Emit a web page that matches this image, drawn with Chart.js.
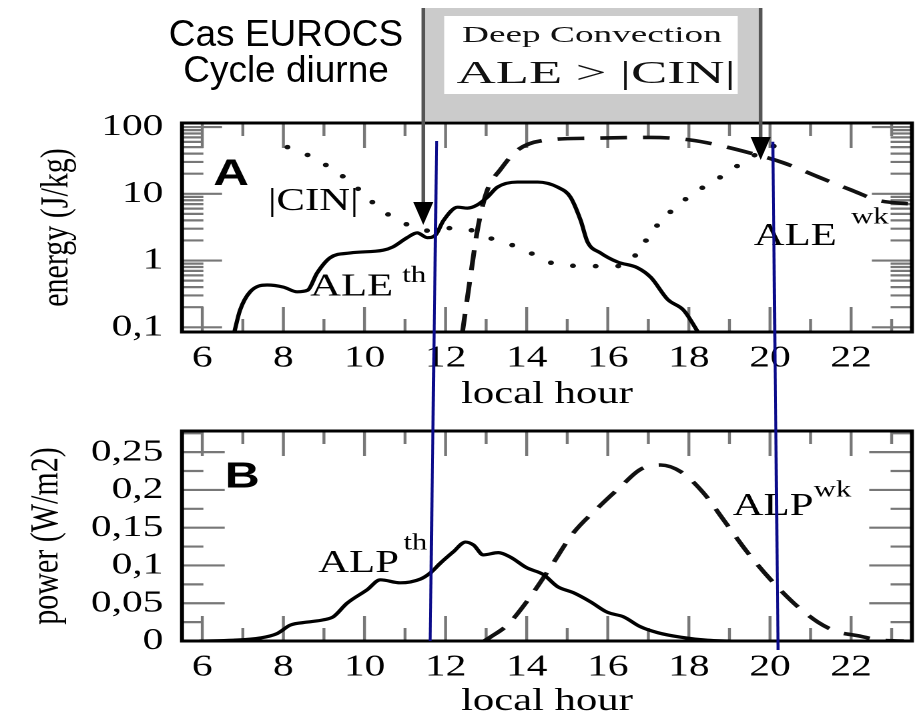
<!DOCTYPE html>
<html>
<head>
<meta charset="utf-8">
<script src="https://cdn.jsdelivr.net/npm/chart.js@4.4.1/dist/chart.umd.min.js"></script>
<style>
  html, body { margin: 0; padding: 0; background: #fff; overflow: hidden; }
  #page { position: relative; width: 921px; height: 715px; overflow: hidden; }
  .stretch { position: absolute; left: 0; transform-origin: 0 0; }
  #overlay { position: absolute; left: 0; top: 0; pointer-events: none; }
</style>
</head>
<body>
<div id="page">
  <div class="stretch" id="wrapA" style="top:0px"><canvas id="chartA" width="690" height="420"></canvas></div>
  <div class="stretch" id="wrapB" style="top:420px"><canvas id="chartB" width="690" height="310"></canvas></div>
  <canvas id="overlay" width="921" height="715"></canvas>
</div>
<script>
// --- panel A : energy (J/kg), log scale ---
const aleThHours  = [6.78, 6.93, 7.18, 7.6, 8.0, 8.34, 8.6, 8.83, 9.15, 9.65, 10.46, 10.7, 11.05, 11.3, 11.55, 11.75, 11.95, 12.3, 12.54, 12.78, 13.03, 13.28, 13.77, 14.27, 14.76, 15.08, 15.33, 15.5, 15.82, 16.24, 16.73, 17.06, 17.48, 17.87, 18.25];
const aleThValues = [0.08, 0.18, 0.34, 0.43, 0.40, 0.34, 0.36, 0.65, 1.1, 1.3, 1.43, 1.6, 2.2, 2.6, 2.2, 2.4, 4.0, 6.3, 6.1, 6.8, 8.9, 12.6, 15, 15, 12.6, 8.9, 4.0, 1.9, 1.3, 0.95, 0.78, 0.56, 0.26, 0.18, 0.08];

const aleWkHours  = [12.41, 12.61, 12.8, 13.03, 13.35, 13.77, 14.41, 15.57, 17.06, 18.04, 18.7, 19.5, 20.34, 21.18, 22.0, 22.66, 23.5];
const aleWkValues = [0.08, 0.56, 3.2, 11.4, 23, 45, 63, 68, 70, 64, 54, 41, 29, 18, 11.4, 8, 7];

const cinHours  = [8.1, 8.73, 9.2, 9.65, 10.34, 10.76, 11.25, 11.45, 12.3, 13.35, 13.85, 14.34, 14.83, 15.5, 16.07, 16.56, 16.86, 17.13, 17.43, 17.8, 18.2, 18.66, 19.1, 19.52, 20.02, 20.5];
const cinValues = [50, 35, 23.5, 15, 6.3, 4.2, 3.1, 2.8, 3.1, 1.9, 1.55, 1.09, 0.85, 0.83, 0.81, 1.0, 1.7, 2.9, 4.6, 7.3, 11, 16, 24, 35, 50, 60];

// --- panel B : power (W/m2) ---
const alpThHours  = [5.94, 6.76, 7.43, 7.85, 8.17, 8.59, 8.98, 9.23, 9.57, 10.07, 10.39, 10.88, 11.38, 11.62, 11.87, 12.19, 12.49, 12.69, 12.93, 13.3, 13.6, 14.0, 14.41, 14.76, 15.15, 15.57, 15.99, 16.39, 16.8, 17.23, 17.8, 18.46, 19.0];
const alpThValues = [0, 0.001, 0.004, 0.01, 0.021, 0.025, 0.028, 0.032, 0.05, 0.068, 0.081, 0.077, 0.082, 0.09, 0.103, 0.118, 0.131, 0.127, 0.114, 0.117, 0.111, 0.097, 0.088, 0.072, 0.064, 0.052, 0.038, 0.032, 0.019, 0.011, 0.005, 0.001, 0];

const alpWkHours  = [12.95, 13.1, 13.52, 14.0, 14.59, 15.15, 15.75, 16.31, 16.8, 17.3, 17.8, 18.36, 18.86, 19.45, 20.02, 20.59, 21.18, 21.67, 22.17, 22.74, 23.3];
const alpWkValues = [0, 0.005, 0.021, 0.052, 0.098, 0.143, 0.176, 0.204, 0.227, 0.233, 0.224, 0.196, 0.16, 0.117, 0.081, 0.05, 0.025, 0.012, 0.007, 0.001, 0];

// --- axes ---
const xTicks  = [6, 8, 10, 12, 14, 16, 18, 20, 22];
const yTicksA = [0.1, 1, 10, 100];
const yTicksB = [0, 0.05, 0.1, 0.15, 0.2, 0.25];

// arrows (hour, energy at tip) and blue marker lines
const arrowHours = [11.45, 19.77];
const arrowTips  = [3.4, 32];
const blueTop    = [[11.78, 62], [20.07, 60]];   // hour, energy (panel A)
const blueBottom = [[11.62, 0], [20.2, -0.012]]; // hour, power (panel B)

const S = 921 / 690;  // original figure is stretched horizontally
document.getElementById('wrapA').style.transform = 'scaleX(' + S + ')';
document.getElementById('wrapB').style.transform = 'scaleX(' + S + ')';

const SERIF = 'Liberation Serif';
const pairs = (xs, ys) => xs.map((x, i) => ({x: x, y: ys[i]}));
const fmt = v => String(v).replace('.', ',');

function innerTicks(ctx, scale, area, vals, len, horiz) {
  vals.forEach(v => {
    const p = scale.getPixelForValue(v);
    if (horiz) {
      ctx.moveTo(p, area.top); ctx.lineTo(p, area.top + len);
      ctx.moveTo(p, area.bottom); ctx.lineTo(p, area.bottom - len);
    } else {
      ctx.moveTo(area.left, p); ctx.lineTo(area.left + len, p);
      ctx.moveTo(area.right, p); ctx.lineTo(area.right - len, p);
    }
  });
}

function framePlugin(tickSets, labels) {
  return {
    id: 'frame',
    beforeDatasetsDraw(chart) {
      const {ctx, chartArea: a, scales} = chart;
      ctx.save();
      ctx.strokeStyle = '#777';
      ctx.lineWidth = 2.2;
      ctx.beginPath();
      tickSets.forEach(t => innerTicks(ctx, scales[t.axis], a, t.values, t.len, t.axis === 'x'));
      ctx.stroke();
      ctx.restore();
    },
    afterDatasetsDraw(chart) {
      const {ctx, chartArea: a, scales: {x, y}} = chart;
      ctx.save();
      ctx.strokeStyle = '#000';
      ctx.lineWidth = 3;
      ctx.strokeRect(a.left, a.top, a.right - a.left, a.bottom - a.top);
      ctx.fillStyle = '#000';
      ctx.textAlign = 'left';
      ctx.textBaseline = 'alphabetic';
      labels.forEach(l => {
        ctx.font = l.font;
        ctx.fillText(l.text, x.getPixelForValue(l.h), y.getPixelForValue(l.v));
      });
      ctx.restore();
    }
  };
}

function hourTicks(major) {
  const out = [];
  for (let h = 6; h <= 23; h++) if ((h % 2 === 0) === major) out.push(h);
  return out;
}
const logMinor = [];
[0.1, 1, 10].forEach(d => { for (let k = 2; k <= 9; k++) logMinor.push(k * d); });
const linMinorB = [0.025, 0.075, 0.125, 0.175, 0.225, 0.275];

function xAxis(pad, titlePad, height) {
  return {
    type: 'linear', min: 5.5, max: 23.5,
    afterBuildTicks: s => { s.ticks = xTicks.map(v => ({value: v})); },
    afterFit: s => { s.height = height; s.paddingLeft = 0; s.paddingRight = 0; },
    grid: {display: false, drawTicks: false},
    border: {display: false},
    ticks: {font: {family: SERIF, size: 31}, color: '#000', padding: pad, maxRotation: 0, autoSkip: false},
    title: {display: true, text: 'local hour', color: '#000', font: {family: SERIF, size: 32}, padding: {top: 0, bottom: titlePad}}
  };
}

function yAxis(type, min, max, ticks, title, titlePad) {
  return {
    type: type, min: min, max: max,
    afterBuildTicks: s => { s.ticks = ticks.map(v => ({value: v})); },
    afterFit: s => { s.width = 136.35; s.paddingTop = 0; s.paddingBottom = 0; },
    grid: {display: false, drawTicks: false},
    border: {display: false},
    ticks: {font: {family: SERIF, size: 31}, color: '#000', padding: 14, callback: v => fmt(v)},
    title: {display: true, text: title, color: '#000', font: {family: SERIF, size: 30}, padding: {top: titlePad, bottom: 0}}
  };
}

const solid  = {borderColor: '#000', borderWidth: 3.2, borderJoinStyle: 'round', borderCapStyle: 'round'};
const dashed = {borderColor: '#111', borderWidth: 3.6, borderDash: [20, 12]};
const dotted = {borderColor: '#111', borderWidth: 4.5, borderDash: [0, 17], borderCapStyle: 'round'};

const common = {
  responsive: false, animation: false, devicePixelRatio: 2,
  plugins: {legend: {display: false}, tooltip: {enabled: false}},
  elements: {point: {radius: 0}, line: {cubicInterpolationMode: 'monotone'}}
};

const LBL = '32px "Liberation Serif"';
const SUP = '23px "Liberation Serif"';

const chartA = new Chart(document.getElementById('chartA'), {
  type: 'line',
  data: {datasets: [
    Object.assign({label: 'ALE th', data: pairs(aleThHours, aleThValues)}, solid),
    Object.assign({label: 'ALE wk', data: pairs(aleWkHours, aleWkValues)}, dashed),
    Object.assign({label: '|CIN|', data: pairs(cinHours, cinValues)}, dotted)
  ]},
  options: Object.assign({}, common, {
    layout: {padding: {top: 123, right: 6.8, left: 0, bottom: 0}},
    scales: {
      x: xAxis(8, 6, 88),
      y: yAxis('logarithmic', 0.085, 115, yTicksA, 'energy (J/kg)', 24.7)
    }
  }),
  plugins: [framePlugin([
    {axis: 'x', values: hourTicks(true), len: 25},
    {axis: 'x', values: hourTicks(false), len: 13},
    {axis: 'y', values: yTicksA, len: 30},
    {axis: 'y', values: logMinor, len: 16}
  ], [
    {text: 'A', h: 6.27, v: 13.5, font: 'bold 37px "Liberation Sans"'},
    {text: '|CIN|', h: 7.62, v: 5.7, font: LBL},
    {text: 'ALE', h: 8.66, v: 0.30, font: LBL},
    {text: 'th', h: 10.93, v: 0.48, font: SUP},
    {text: 'ALE', h: 19.6, v: 1.7, font: LBL},
    {text: 'wk', h: 22.0, v: 3.6, font: SUP}
  ])]
});

const chartB = new Chart(document.getElementById('chartB'), {
  type: 'line',
  data: {datasets: [
    Object.assign({label: 'ALP th', data: pairs(alpThHours, alpThValues)}, solid),
    Object.assign({label: 'ALP wk', data: pairs(alpWkHours, alpWkValues)}, dashed)
  ]},
  options: Object.assign({}, common, {
    layout: {padding: {top: 11, right: 6.8, left: 0, bottom: 0}},
    scales: {
      x: xAxis(8, 9, 89),
      y: yAxis('linear', 0, 0.278, yTicksB, 'power (W/m2)', 17)
    }
  }),
  plugins: [framePlugin([
    {axis: 'x', values: hourTicks(true), len: 25},
    {axis: 'x', values: hourTicks(false), len: 13},
    {axis: 'y', values: yTicksB, len: 32},
    {axis: 'y', values: linMinorB, len: 16}
  ], [
    {text: 'B', h: 6.56, v: 0.203, font: 'bold 36px "Liberation Sans"'},
    {text: 'ALP', h: 8.86, v: 0.0915, font: LBL},
    {text: 'th', h: 10.96, v: 0.121, font: SUP},
    {text: 'ALP', h: 19.08, v: 0.167, font: LBL},
    {text: 'wk', h: 21.08, v: 0.191, font: SUP}
  ])]
});

// --- overlay: header, convection box, arrows, blue markers ---
const ov = document.getElementById('overlay').getContext('2d');
const ax = h => chartA.scales.x.getPixelForValue(h) * S;
const ay = v => chartA.scales.y.getPixelForValue(v);
const bx = h => chartB.scales.x.getPixelForValue(h) * S;
const by = v => 420 + chartB.scales.y.getPixelForValue(v);

ov.fillStyle = '#000';
ov.font = '37px "Liberation Sans"';
ov.textAlign = 'center';
ov.fillText('Cas EUROCS', 286, 46);
ov.fillText('Cycle diurne', 286, 82);

const boxL = ax(arrowHours[0]), boxR = ax(arrowHours[1]);
const boxT = 8, boxB = chartA.chartArea.top - 2;
ov.fillStyle = '#cbcbcb';
ov.fillRect(boxL, boxT, boxR - boxL, boxB - boxT);
ov.fillStyle = '#fff';
ov.fillRect(boxL + 21, 16, boxR - boxL - 44, 78);
const cx = (boxL + boxR) / 2;
ov.fillStyle = '#111';
ov.save(); ov.translate(cx, 42); ov.scale(1.62, 1);
ov.font = '23px "Liberation Serif"'; ov.fillText('Deep Convection', 0, 0); ov.restore();
ov.save(); ov.translate(cx + 4, 83); ov.scale(1.7, 1);
ov.font = '32px "Liberation Serif"'; ov.fillText('ALE > |CIN|', 0, 0); ov.restore();

arrowHours.forEach((h, i) => {
  const x = ax(h), tip = ay(arrowTips[i]);
  ov.strokeStyle = '#555';
  ov.lineWidth = 3.5;
  ov.beginPath(); ov.moveTo(x, boxT); ov.lineTo(x, tip - 20); ov.stroke();
  ov.fillStyle = '#000';
  ov.beginPath(); ov.moveTo(x - 10, tip - 23); ov.lineTo(x + 10, tip - 23); ov.lineTo(x, tip); ov.closePath(); ov.fill();
});

ov.strokeStyle = '#0b0b8a';
ov.lineWidth = 3;
blueTop.forEach((t, i) => {
  const b = blueBottom[i];
  ov.beginPath();
  ov.moveTo(ax(t[0]), ay(t[1]));
  ov.lineTo(bx(b[0]), by(b[1]));
  ov.stroke();
});
</script>
</body>
</html>
